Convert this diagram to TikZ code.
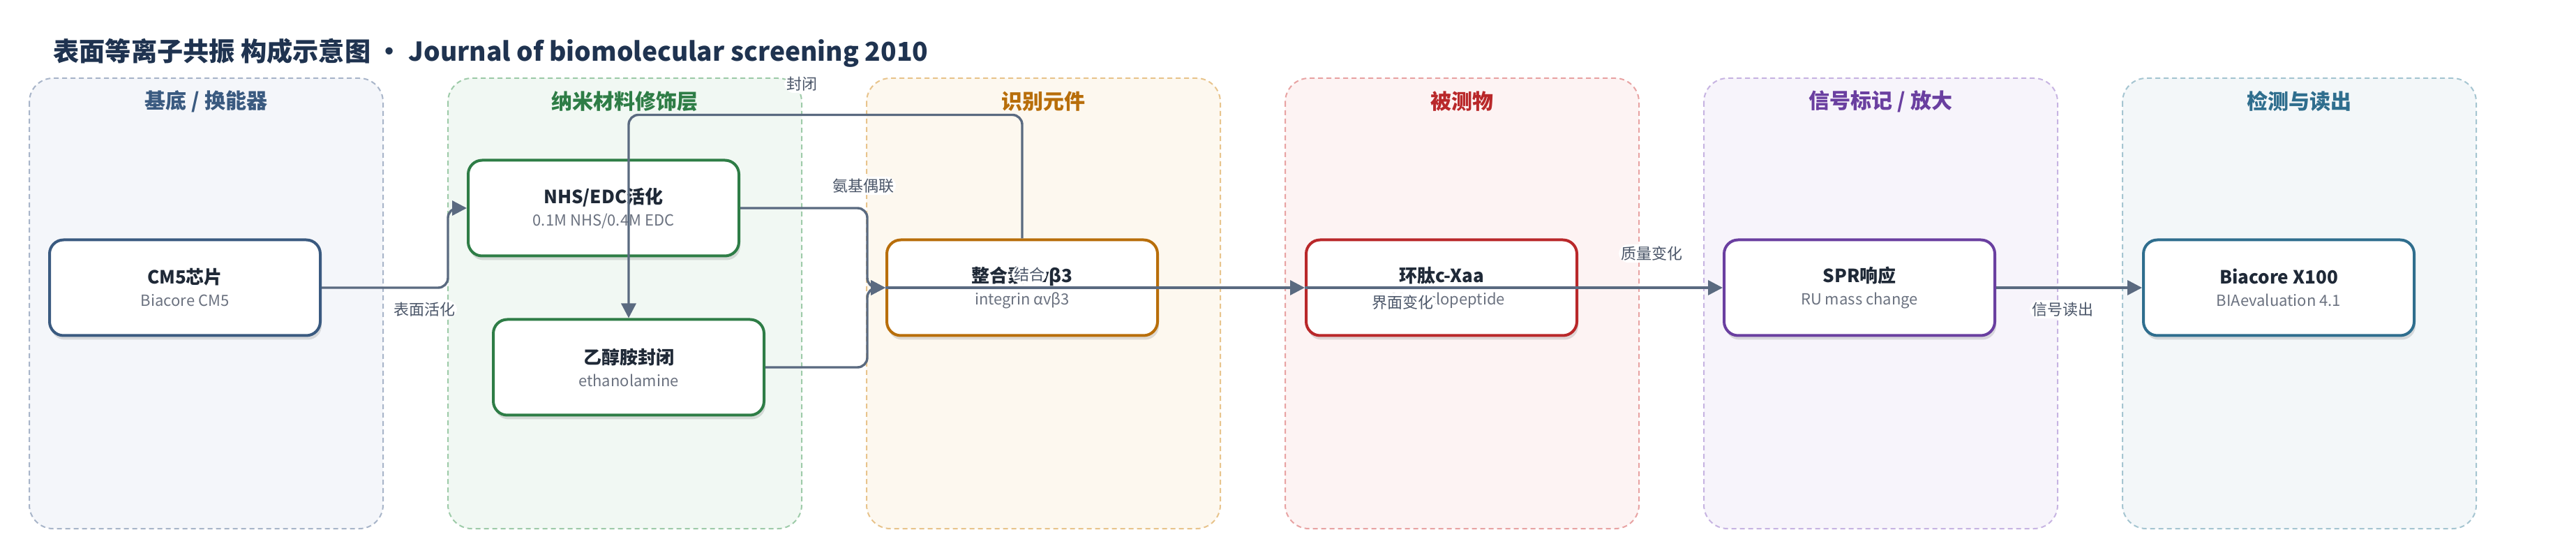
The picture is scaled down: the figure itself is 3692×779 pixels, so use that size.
\documentclass[tikz,border=0pt]{standalone}
\usepackage{fontspec}
\setmainfont{Noto Sans CJK SC}
\usetikzlibrary{arrows.meta,shadows,calc}
\definecolor{titlecol}{HTML}{1F3350}
\definecolor{edgecol}{HTML}{5A6A80}
\definecolor{labcol}{HTML}{4A5568}
\definecolor{nodetext}{HTML}{1F2937}
\definecolor{subcol}{HTML}{6B7280}
\definecolor{pbA}{HTML}{A8B5C9}\definecolor{pfA}{HTML}{F4F6FA}\definecolor{ptA}{HTML}{3A5A80}
\definecolor{pbB}{HTML}{9ECBA9}\definecolor{pfB}{HTML}{F1F8F3}\definecolor{ptB}{HTML}{2E7D46}
\definecolor{pbC}{HTML}{E8C48C}\definecolor{pfC}{HTML}{FDF8EF}\definecolor{ptC}{HTML}{B86E0A}
\definecolor{pbD}{HTML}{E8A3A3}\definecolor{pfD}{HTML}{FDF3F3}\definecolor{ptD}{HTML}{B9282A}
\definecolor{pbE}{HTML}{C7B4E2}\definecolor{pfE}{HTML}{F7F4FB}\definecolor{ptE}{HTML}{6A3FA0}
\definecolor{pbF}{HTML}{A5C5D1}\definecolor{pfF}{HTML}{F3F7F9}\definecolor{ptF}{HTML}{2F6E8E}
\begin{document}
\begin{tikzpicture}[x=0.5pt,y=-0.5pt,
  panelbox/.style 2 args={draw=#1, fill=#2, line width=1pt, dash pattern=on 3.5pt off 2.5pt, rounded corners=17pt},
  ptitle/.style={font=\bfseries\fontsize{15pt}{18pt}\selectfont, text=#1, inner sep=0pt},
  nodebox/.style={draw=#1, fill=white, line width=2pt, rounded corners=10pt,
    minimum width=194pt, minimum height=68.5pt, align=center, inner sep=0pt,
    text=nodetext, font=\fontsize{11pt}{16pt}\selectfont,
    drop shadow={shadow xshift=1pt, shadow yshift=-3pt, opacity=0.12, fill=black}},
  conn/.style={draw=edgecol, line width=1.7pt, rounded corners=7pt, -{Triangle[length=10.5pt,width=10.5pt]}},
  elabel/.style={fill=white, inner sep=1.5pt, text=labcol, font=\fontsize{11pt}{13pt}\selectfont},
]
\useasboundingbox (0,0) rectangle (3692,779);
\fill[white] (0,0) rectangle (3692,779);

% title
\node[anchor=west, inner sep=0pt, text=titlecol, font=\bfseries\fontsize{18.6pt}{22pt}\selectfont] (title) at (76,76)
  {表面等离子共振 构成示意图 · Journal of biomolecular screening 2010};

% panels
\draw[panelbox={pbA}{pfA}] (42,112) rectangle (549,757);
\draw[panelbox={pbB}{pfB}] (642,112) rectangle (1149,757);
\draw[panelbox={pbC}{pfC}] (1242,112) rectangle (1749,757);
\draw[panelbox={pbD}{pfD}] (1842,112) rectangle (2349,757);
\draw[panelbox={pbE}{pfE}] (2442,112) rectangle (2949,757);
\draw[panelbox={pbF}{pfF}] (3042,112) rectangle (3549,757);

\node[ptitle=ptA] (tA) at (295.5,145) {基底 / 换能器};
\node[ptitle=ptB] (tB) at (895.5,145) {纳米材料修饰层};
\node[ptitle=ptC] (tC) at (1495.5,145) {识别元件};
\node[ptitle=ptD] (tD) at (2095.5,145) {被测物};
\node[ptitle=ptE] (tE) at (2695.5,145) {信号标记 / 放大};
\node[ptitle=ptF] (tF) at (3295.5,145) {检测与读出};

% nodes
\node[nodebox=ptA] (cm5) at (265,412) {{\bfseries\fontsize{13pt}{16pt}\selectfont CM5芯片}\\{\color{subcol}Biacore CM5}};
\node[nodebox=ptB] (nhs) at (865,298) {{\bfseries\fontsize{13pt}{16pt}\selectfont NHS/EDC活化}\\{\color{subcol}0.1M NHS/0.4M EDC}};
\node[nodebox=ptB] (eth) at (901,526) {{\bfseries\fontsize{13pt}{16pt}\selectfont 乙醇胺封闭}\\{\color{subcol}ethanolamine}};
\node[nodebox=ptC] (integ) at (1465,412) {{\bfseries\fontsize{13pt}{16pt}\selectfont 整合素αvβ3}\\{\color{subcol}integrin αvβ3}};
\node[nodebox=ptD] (cyc) at (2066,412) {{\bfseries\fontsize{13pt}{16pt}\selectfont 环肽c-Xaa}\\{\color{subcol}RGD cyclopeptide}};
\node[nodebox=ptE] (spr) at (2665,412) {{\bfseries\fontsize{13pt}{16pt}\selectfont SPR响应}\\{\color{subcol}RU mass change}};
\node[nodebox=ptF] (bia) at (3266,412) {{\bfseries\fontsize{13pt}{16pt}\selectfont Biacore X100}\\{\color{subcol}BIAevaluation 4.1}};

% connectors
\coordinate (j1) at (1243,412);
\draw[conn] (cm5.east) -- ++(181,0) |- (nhs.west) node[elabel] at (608,443) {表面活化};
\draw[conn] (nhs.east) -| (j1) -- (integ.west) node[elabel] at (1237,266) {氨基偶联};
\draw[conn] (eth.east) -| (j1) -- (integ.west);
\draw[conn] (integ.north) -- ++(0,-177) -| (eth.north) node[elabel] at (1149,120) {封闭};
\draw[conn] (integ.west) -- (cyc.west) node[elabel] at (1475,393) {结合};
\draw[conn] (cyc.west) -- (spr.west) node[elabel] at (2010,433) {界面变化} node[elabel] at (2367,363) {质量变化};
\draw[conn] (spr.east) -- (bia.west) node[elabel] at (2956,443) {信号读出};
\end{tikzpicture}
\end{document}
